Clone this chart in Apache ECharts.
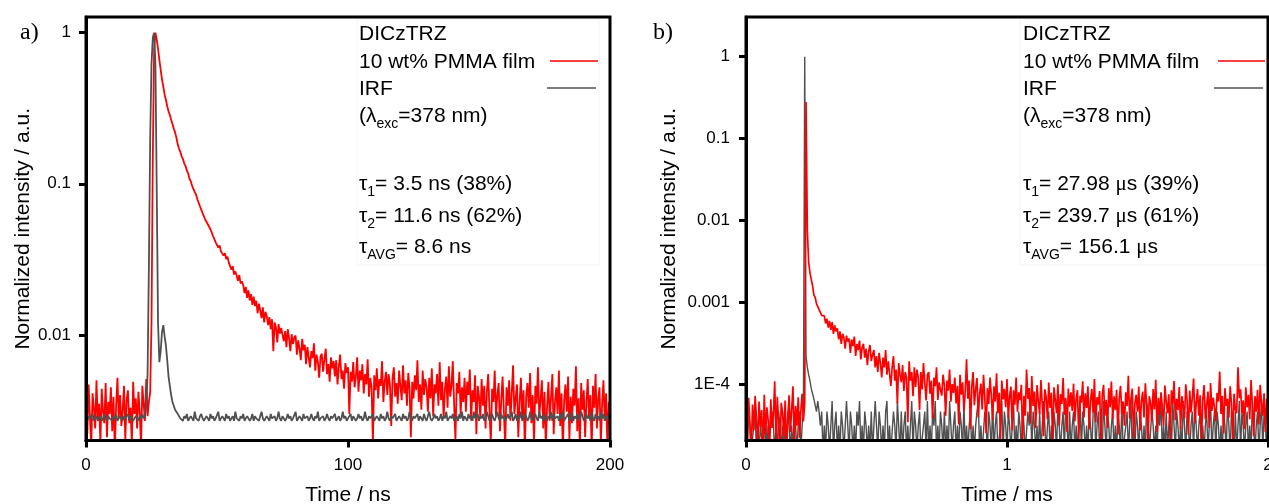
<!DOCTYPE html>
<html>
<head>
<meta charset="utf-8">
<script src="https://cdn.jsdelivr.net/npm/echarts@6/dist/echarts.min.js"></script>
<style>
  html, body { margin: 0; padding: 0; background: #ffffff; }
  #chart { width: 1269px; height: 504px; }
</style>
</head>
<body>
<div id="chart"></div>
<script>
// ---------------------------------------------------------------------------
// Panel a) — nanosecond window (TCSPC), one channel every 0.5 ns from 0 ns
// ---------------------------------------------------------------------------
const stepA = 0.5; // ns per channel

// DICzTRZ, 10 wt% in PMMA film — normalized prompt fluorescence decay
const filmA = [
  0.0038, 0.0022, 0.0047, 0.0029, 0.0018, 0.0041, 0.0033, 0.0024, 0.0050, 0.0027,
  0.0035, 0.0019, 0.0044, 0.0031, 0.0026, 0.0048, 0.0021, 0.0036, 0.0030, 0.0045,
  0.0023, 0.0039, 0.0017, 0.0034, 0.0052, 0.0028, 0.0040, 0.0025, 0.0032, 0.0046,
  0.0020, 0.0037, 0.0043, 0.0026, 0.0033, 0.0019, 0.0049, 0.0030, 0.0038, 0.0024,
  0.0042, 0.0031, 0.0018, 0.0046, 0.0035, 0.0027, 0.0051, 0.0029, 0.0036, 0.0042,
  0.012, 0.15, 0.78, 1.0, 0.90, 0.78, 0.66, 0.57, 0.49, 0.44,
  0.39, 0.36, 0.326, 0.302, 0.285, 0.265, 0.249, 0.232, 0.219, 0.202,
  0.183, 0.171, 0.163, 0.152, 0.146, 0.136, 0.131, 0.122, 0.117, 0.108,
  0.104, 0.097, 0.095, 0.088, 0.085, 0.079, 0.077, 0.071, 0.069, 0.064,
  0.063, 0.058, 0.058, 0.054, 0.054, 0.050, 0.049, 0.045, 0.045, 0.041,
  0.0412, 0.0378, 0.0391, 0.0357, 0.0368, 0.0335, 0.0347, 0.0318, 0.0329, 0.0301,
  0.0296, 0.0270, 0.0285, 0.0251, 0.0263, 0.0247, 0.0228, 0.0249, 0.0219, 0.0226,
  0.0214, 0.0189, 0.0208, 0.0176, 0.0197, 0.0169, 0.0186, 0.0158, 0.0179, 0.0155,
  0.0168, 0.0139, 0.0161, 0.0146, 0.0129, 0.0152, 0.0121, 0.0142, 0.0133, 0.0116,
  0.0131, 0.0109, 0.0127, 0.0078, 0.0121, 0.0112, 0.0089, 0.0118, 0.0102, 0.0111,
  0.0114, 0.0091, 0.0106, 0.0083, 0.0109, 0.0095, 0.0078, 0.0101, 0.0087, 0.0096,
  0.0099, 0.0074, 0.0092, 0.0081, 0.0068, 0.0094, 0.0079, 0.0086, 0.0064, 0.0083,
  0.0082, 0.0061, 0.0078, 0.0070, 0.0088, 0.0058, 0.0074, 0.0066, 0.0052, 0.0072,
  0.0075, 0.0057, 0.0069, 0.0081, 0.0055, 0.0064, 0.0049, 0.0071, 0.0060, 0.0067,
  0.0053, 0.0068, 0.0047, 0.0062, 0.0074, 0.0051, 0.0058, 0.0044, 0.0065, 0.0056,
  0.0061, 0.0030, 0.0057, 0.0049, 0.0066, 0.0045, 0.0053, 0.0071, 0.0042, 0.0058,
  0.0050, 0.0064, 0.0041, 0.0055, 0.0047, 0.0069, 0.0039, 0.0052, 0.0045, 0.0019,
  0.0054, 0.0043, 0.0060, 0.0038, 0.0051, 0.0046, 0.0067, 0.0036, 0.0049, 0.0057,
  0.0040, 0.0055, 0.0047, 0.0025, 0.0052, 0.0061, 0.0039, 0.0048, 0.0035, 0.0058,
  0.0046, 0.0037, 0.0063, 0.0041, 0.0050, 0.0034, 0.0056, 0.0044, 0.0021, 0.0049,
  0.0038, 0.0054, 0.0043, 0.0068, 0.0036, 0.0047, 0.0032, 0.0058, 0.0040, 0.0051,
  0.0045, 0.0031, 0.0052, 0.0038, 0.0060, 0.0029, 0.0047, 0.0041, 0.0055, 0.0034,
  0.0066, 0.0037, 0.0049, 0.0028, 0.0044, 0.0053, 0.0033, 0.0062, 0.0039, 0.0046,
  0.0067, 0.0035, 0.0020, 0.0048, 0.0041, 0.0057, 0.0030, 0.0045, 0.0036, 0.0052,
  0.0031, 0.0049, 0.0040, 0.0059, 0.0027, 0.0043, 0.0036, 0.0054, 0.0022, 0.0046,
  0.0039, 0.0028, 0.0051, 0.0034, 0.0046, 0.0024, 0.0042, 0.0055, 0.0032, 0.0019,
  0.0044, 0.0036, 0.0058, 0.0029, 0.0040, 0.0048, 0.0023, 0.0037, 0.0053, 0.0031,
  0.0018, 0.0045, 0.0034, 0.0050, 0.0027, 0.0041, 0.0063, 0.0030, 0.0038, 0.0047,
  0.0021, 0.0036, 0.0052, 0.0028, 0.0043, 0.0017, 0.0039, 0.0048, 0.0033, 0.0056,
  0.0026, 0.0040, 0.0019, 0.0046, 0.0035, 0.0061, 0.0029, 0.0037, 0.0050, 0.0024,
  0.0042, 0.0018, 0.0034, 0.0049, 0.0027, 0.0039, 0.0055, 0.0022, 0.0036, 0.0045,
  0.0030, 0.0058, 0.0025, 0.0041, 0.0017, 0.0037, 0.0047, 0.0031, 0.0053, 0.0020,
  0.0039, 0.0026, 0.0044, 0.0034, 0.0062, 0.0023, 0.0038, 0.0018, 0.0048, 0.0032,
  0.0043, 0.0021, 0.0036, 0.0051, 0.0028, 0.0040, 0.0017, 0.0046, 0.0033, 0.0055,
  0.0024, 0.0038, 0.0045, 0.0019, 0.0035, 0.0050, 0.0027, 0.0041, 0.0018, 0.0036,
  0.0029
];

// Instrument response function, same time base
const irfA = [
  0.0028, 0.0027, 0.0029, 0.0028, 0.0028, 0.0030, 0.0027, 0.0028, 0.0029, 0.0027,
  0.0028, 0.0029, 0.0027, 0.0028, 0.0030, 0.0028, 0.0027, 0.0029, 0.0028, 0.0028,
  0.0027, 0.0029, 0.0028, 0.0030, 0.0027, 0.0028, 0.0029, 0.0028, 0.0027, 0.0029,
  0.0028, 0.0028, 0.0030, 0.0027, 0.0029, 0.0028, 0.0027, 0.0028, 0.0029, 0.0028,
  0.0027, 0.0029, 0.0028, 0.0030, 0.0028, 0.0029, 0.0034, 0.0055, 0.028, 0.20,
  0.62, 0.93, 1.0, 0.62, 0.090, 0.012, 0.0066, 0.0078, 0.0104, 0.0116,
  0.0098, 0.0085, 0.0068, 0.0053, 0.0046, 0.0040, 0.0036, 0.0034, 0.0032, 0.0031,
  0.0030, 0.0029, 0.0028, 0.0028, 0.0027, 0.0029, 0.0028, 0.0030, 0.0027, 0.0028,
  0.0029, 0.0028, 0.0027, 0.0031, 0.0028, 0.0028, 0.0027, 0.0029, 0.0030, 0.0028,
  0.0027, 0.0028, 0.0029, 0.0028, 0.0027, 0.0030, 0.0028, 0.0029, 0.0027, 0.0028,
  0.0028, 0.0031, 0.0027, 0.0028, 0.0029, 0.0028, 0.0027, 0.0030, 0.0028, 0.0029,
  0.0027, 0.0028, 0.0029, 0.0027, 0.0031, 0.0028, 0.0028, 0.0027, 0.0029, 0.0028,
  0.0030, 0.0027, 0.0028, 0.0029, 0.0028, 0.0027, 0.0028, 0.0030, 0.0027, 0.0029,
  0.0028, 0.0028, 0.0027, 0.0029, 0.0031, 0.0028, 0.0027, 0.0028, 0.0029, 0.0028,
  0.0027, 0.0030, 0.0028, 0.0028, 0.0029, 0.0027, 0.0028, 0.0031, 0.0028, 0.0027,
  0.0029, 0.0028, 0.0027, 0.0028, 0.0030, 0.0028, 0.0029, 0.0027, 0.0028, 0.0028,
  0.0031, 0.0027, 0.0028, 0.0029, 0.0028, 0.0027, 0.0030, 0.0028, 0.0028, 0.0029,
  0.0027, 0.0028, 0.0030, 0.0028, 0.0027, 0.0029, 0.0028, 0.0031, 0.0027, 0.0028,
  0.0028, 0.0029, 0.0027, 0.0028, 0.0030, 0.0028, 0.0027, 0.0029, 0.0028, 0.0028,
  0.0030, 0.0027, 0.0028, 0.0029, 0.0027, 0.0028, 0.0031, 0.0028, 0.0029, 0.0027,
  0.0028, 0.0028, 0.0030, 0.0027, 0.0029, 0.0028, 0.0027, 0.0028, 0.0030, 0.0028,
  0.0029, 0.0027, 0.0028, 0.0031, 0.0028, 0.0027, 0.0029, 0.0028, 0.0028, 0.0030,
  0.0027, 0.0028, 0.0029, 0.0028, 0.0027, 0.0030, 0.0028, 0.0029, 0.0027, 0.0028,
  0.0031, 0.0028, 0.0027, 0.0029, 0.0028, 0.0028, 0.0030, 0.0027, 0.0028, 0.0029,
  0.0028, 0.0027, 0.0030, 0.0028, 0.0029, 0.0027, 0.0028, 0.0031, 0.0028, 0.0027,
  0.0029, 0.0028, 0.0028, 0.0030, 0.0027, 0.0029, 0.0028, 0.0027, 0.0030, 0.0028,
  0.0027, 0.0029, 0.0031, 0.0028, 0.0027, 0.0028, 0.0030, 0.0028, 0.0029, 0.0027,
  0.0028, 0.0030, 0.0027, 0.0029, 0.0028, 0.0031, 0.0027, 0.0028, 0.0029, 0.0028,
  0.0030, 0.0027, 0.0028, 0.0029, 0.0027, 0.0030, 0.0028, 0.0031, 0.0027, 0.0029,
  0.0028, 0.0027, 0.0030, 0.0028, 0.0029, 0.0027, 0.0031, 0.0028, 0.0028, 0.0030,
  0.0027, 0.0029, 0.0028, 0.0030, 0.0027, 0.0028, 0.0031, 0.0029, 0.0027, 0.0028,
  0.0030, 0.0028, 0.0027, 0.0029, 0.0031, 0.0028, 0.0027, 0.0030, 0.0028, 0.0029,
  0.0027, 0.0028, 0.0030, 0.0028, 0.0029, 0.0031, 0.0027, 0.0028, 0.0030, 0.0027,
  0.0029, 0.0028, 0.0031, 0.0027, 0.0028, 0.0030, 0.0029, 0.0027, 0.0028, 0.0031,
  0.0028, 0.0027, 0.0029, 0.0030, 0.0028, 0.0027, 0.0031, 0.0028, 0.0029, 0.0027,
  0.0030, 0.0028, 0.0027, 0.0029, 0.0028, 0.0031, 0.0027, 0.0030, 0.0028, 0.0028,
  0.0029, 0.0027, 0.0030, 0.0028, 0.0031, 0.0027, 0.0028, 0.0029, 0.0030, 0.0027,
  0.0028, 0.0031, 0.0027, 0.0029, 0.0028, 0.0030, 0.0027, 0.0028, 0.0031, 0.0029,
  0.0027, 0.0028, 0.0030, 0.0028, 0.0029, 0.0027, 0.0031, 0.0028, 0.0027, 0.0030,
  0.0028, 0.0029, 0.0027, 0.0031, 0.0028, 0.0030, 0.0027, 0.0029, 0.0028, 0.0030,
  0.0028
];

// ---------------------------------------------------------------------------
// Panel b) — millisecond window (MCS), one channel every 0.005 ms from 0 ms
// ---------------------------------------------------------------------------
const stepB = 0.005; // ms per channel

// DICzTRZ film — normalized delayed fluorescence decay
const filmB = [
  4.4e-5, 2.1e-5, 6.8e-5, 3.3e-5, 1.4e-5, 5.6e-5, 2.7e-5, 7.2e-5, 3.9e-5, 1.6e-5,
  6.1e-5, 3.0e-5, 4.8e-5, 1.3e-5, 7.4e-5, 2.4e-5, 5.2e-5, 3.6e-5, 1.5e-5, 6.5e-5,
  2.9e-5, 4.1e-5, 1.08e-4, 2.0e-5, 7.0e-5, 3.4e-5, 1.2e-5, 5.9e-5, 4.5e-5, 2.3e-5,
  6.3e-5, 1.4e-5, 3.8e-5, 7.3e-5, 2.6e-5, 4.9e-5, 9.4e-5, 1.7e-5, 5.4e-5, 3.1e-5,
  6.9e-5, 2.2e-5, 4.6e-5, 7.6e-5, 3.5e-5, 6.0e-5, 0.28, 0.0075, 0.0031, 0.0023,
  0.0019, 0.0016, 0.00122, 0.00115, 0.00096, 0.00095, 0.00081, 0.00083, 0.00069, 0.00072,
  6.8e-4, 5.5e-4, 6.3e-4, 4.9e-4, 5.9e-4, 4.6e-4, 5.7e-4, 4.1e-4, 5.2e-4, 4.4e-4,
  4.8e-4, 3.5e-4, 4.4e-4, 3.1e-4, 4.1e-4, 3.7e-4, 2.7e-4, 3.9e-4, 3.3e-4, 3.6e-4,
  2.4e-4, 3.5e-4, 2.9e-4, 3.8e-4, 2.2e-4, 3.1e-4, 2.6e-4, 3.4e-4, 2.0e-4, 2.8e-4,
  3.1e-4, 2.1e-4, 2.7e-4, 1.7e-4, 2.5e-4, 3.0e-4, 1.9e-4, 2.3e-4, 2.6e-4, 1.6e-4,
  2.2e-4, 1.4e-4, 2.4e-4, 1.8e-4, 1.2e-4, 2.1e-4, 1.6e-4, 2.6e-4, 1.3e-4, 1.9e-4,
  1.9e-4, 9.5e-5, 1.6e-4, 2.2e-4, 1.1e-4, 1.5e-4, 5.8e-5, 1.8e-4, 1.3e-4, 1.05e-4,
  1.7e-4, 8.2e-5, 1.4e-4, 1.2e-4, 3.4e-5, 1.9e-4, 1.1e-4, 1.4e-4, 7.1e-5, 1.6e-4,
  9.2e-5, 1.5e-4, 1.2e-4, 4.8e-5, 1.4e-4, 8.6e-5, 1.8e-4, 1.05e-4, 6.3e-5, 1.3e-4,
  1.4e-4, 7.6e-5, 1.1e-4, 3.8e-5, 1.2e-4, 9.4e-5, 1.6e-4, 6.4e-5, 1.05e-4, 8.5e-5,
  7.2e-5, 1.3e-4, 9.7e-5, 4.1e-5, 1.1e-4, 8.3e-5, 1.5e-4, 6.1e-5, 1.0e-4, 7.8e-5,
  1.2e-4, 5.8e-5, 9.5e-5, 3.2e-5, 1.3e-4, 7.4e-5, 1.05e-4, 4.7e-5, 8.1e-5, 2.0e-4,
  6.6e-5, 1.1e-4, 2.8e-5, 9.2e-5, 1.4e-4, 5.5e-5, 8.7e-5, 1.18e-4, 3.9e-5, 7.6e-5,
  1.01e-4, 4.9e-5, 1.3e-4, 6.8e-5, 2.5e-5, 8.9e-5, 5.7e-5, 1.2e-4, 7.3e-5, 3.6e-5,
  9.4e-5, 6.1e-5, 1.35e-4, 4.4e-5, 7.8e-5, 2.1e-5, 1.1e-4, 6.5e-5, 8.7e-5, 5.2e-5,
  1.15e-4, 3.8e-5, 7.1e-5, 9.3e-5, 2.7e-5, 8.4e-5, 5.6e-5, 1.2e-4, 4.6e-5, 7.9e-5,
  6.3e-5, 9.8e-5, 1.9e-5, 7.2e-5, 4.1e-5, 1.5e-4, 6.6e-5, 8.9e-5, 3.3e-5, 1.25e-4,
  5.4e-5, 8.1e-5, 2.9e-5, 9.7e-5, 6.2e-5, 4.3e-5, 1.12e-4, 5.8e-5, 2.3e-5, 8.6e-5,
  6.9e-5, 3.7e-5, 1.04e-4, 5.1e-5, 7.8e-5, 1.8e-5, 9.1e-5, 6.4e-5, 4.4e-5, 9.9e-5,
  3.1e-5, 7.5e-5, 5.7e-5, 1.18e-4, 4.2e-5, 6.8e-5, 2.6e-5, 8.8e-5, 5.3e-5, 7.9e-5,
  4.7e-5, 1.01e-4, 3.5e-5, 6.6e-5, 8.4e-5, 2.1e-5, 7.2e-5, 5.9e-5, 1.08e-4, 3.9e-5,
  7.7e-5, 5.1e-5, 9.4e-5, 2.8e-5, 6.3e-5, 8.7e-5, 4.5e-5, 1.15e-4, 3.4e-5, 6.9e-5,
  5.6e-5, 8.2e-5, 1.9e-5, 7.3e-5, 9.8e-5, 4.1e-5, 6.4e-5, 2.9e-5, 8.9e-5, 5.2e-5,
  1.07e-4, 3.7e-5, 7.1e-5, 4.8e-5, 8.5e-5, 2.4e-5, 6.7e-5, 9.5e-5, 4.3e-5, 6.1e-5,
  3.1e-5, 7.9e-5, 5.4e-5, 1.26e-4, 3.8e-5, 6.6e-5, 8.8e-5, 2.2e-5, 5.8e-5, 7.4e-5,
  4.6e-5, 9.3e-5, 2.7e-5, 6.2e-5, 8.1e-5, 3.9e-5, 1.02e-4, 5.5e-5, 1.8e-5, 7.1e-5,
  5.9e-5, 3.5e-5, 8.7e-5, 4.9e-5, 1.13e-4, 2.6e-5, 6.8e-5, 4.2e-5, 7.9e-5, 5.3e-5,
  3.1e-5, 9.6e-5, 6.1e-5, 4.4e-5, 7.5e-5, 2.1e-5, 8.4e-5, 5.7e-5, 1.09e-4, 3.6e-5,
  6.6e-5, 4.8e-5, 9.2e-5, 2.8e-5, 7.1e-5, 5.5e-5, 3.8e-5, 9.9e-5, 6.2e-5, 2.4e-5,
  8.3e-5, 4.5e-5, 6.9e-5, 1.17e-4, 3.3e-5, 5.8e-5, 8.7e-5, 4.1e-5, 7.3e-5, 1.9e-5,
  6.4e-5, 9.7e-5, 3.7e-5, 5.6e-5, 8.1e-5, 2.9e-5, 1.03e-4, 4.7e-5, 6.8e-5, 5.2e-5,
  3.5e-5, 7.8e-5, 6.1e-5, 1.42e-4, 4.3e-5, 7.2e-5, 2.5e-5, 8.9e-5, 5.4e-5, 6.6e-5,
  3.9e-5, 9.4e-5, 5.8e-5, 2.1e-5, 7.6e-5, 4.9e-5, 4.4e-5, 1.6e-4, 6.7e-5, 8.6e-5,
  4.4e-5, 6.3e-5, 2.8e-5, 9.1e-5, 5.2e-5, 7.4e-5, 3.7e-5, 1.12e-4, 5.7e-5, 2.3e-5,
  7.1e-5, 4.6e-5, 8.5e-5, 3.2e-5, 9.8e-5, 5.9e-5, 4.1e-5, 7.7e-5, 2.6e-5, 6.6e-5,
  5.3e-5
];

// Instrument response function, same time base (low-count tail)
const irfB = [
  3.1e-5, 1.5e-5, 4.6e-5, 3.1e-5, 1.5e-5, 1.5e-5, 3.1e-5, 4.6e-5, 1.5e-5, 3.1e-5,
  1.5e-5, 3.1e-5, 3.1e-5, 1.5e-5, 4.6e-5, 1.5e-5, 3.1e-5, 1.5e-5, 1.5e-5, 3.1e-5,
  4.6e-5, 3.1e-5, 1.5e-5, 3.1e-5, 1.5e-5, 4.6e-5, 3.1e-5, 1.5e-5, 3.1e-5, 1.5e-5,
  3.1e-5, 1.5e-5, 4.6e-5, 3.1e-5, 1.5e-5, 3.1e-5, 1.5e-5, 4.6e-5, 3.1e-5, 1.5e-5,
  3.1e-5, 4.6e-5, 1.5e-5, 3.1e-5, 4.6e-5, 1.0, 2.2e-4, 1.6e-4, 1.3e-4, 1.1e-4,
  8.8e-5, 8.8e-5, 6.6e-5, 6.6e-5, 4.6e-5, 6.2e-5, 4.6e-5, 3.1e-5, 4.6e-5, 1.5e-5,
  3.1e-5, 1.5e-5, 4.6e-5, 3.1e-5, 1.5e-5, 3.1e-5, 6.2e-5, 1.5e-5, 3.1e-5, 4.6e-5,
  1.5e-5, 3.1e-5, 1.5e-5, 4.6e-5, 3.1e-5, 1.5e-5, 1.5e-5, 6.2e-5, 3.1e-5, 1.5e-5,
  4.6e-5, 3.1e-5, 1.5e-5, 3.1e-5, 1.5e-5, 4.6e-5, 3.1e-5, 6.2e-5, 1.5e-5, 3.1e-5,
  1.5e-5, 4.6e-5, 3.1e-5, 1.5e-5, 3.1e-5, 1.5e-5, 4.6e-5, 1.5e-5, 3.1e-5, 6.2e-5,
  3.1e-5, 1.5e-5, 4.6e-5, 3.1e-5, 1.5e-5, 3.1e-5, 1.5e-5, 4.6e-5, 6.2e-5, 1.5e-5,
  3.1e-5, 1.5e-5, 1.5e-5, 4.6e-5, 3.1e-5, 1.5e-5, 6.2e-5, 3.1e-5, 1.5e-5, 4.6e-5,
  1.5e-5, 3.1e-5, 4.6e-5, 1.5e-5, 3.1e-5, 1.5e-5, 3.1e-5, 6.2e-5, 1.5e-5, 4.6e-5,
  3.1e-5, 1.5e-5, 3.1e-5, 4.6e-5, 1.5e-5, 1.5e-5, 3.1e-5, 4.6e-5, 1.5e-5, 6.2e-5,
  1.5e-5, 3.1e-5, 1.5e-5, 4.6e-5, 3.1e-5, 6.2e-5, 1.5e-5, 3.1e-5, 1.5e-5, 4.6e-5,
  3.1e-5, 1.5e-5, 4.6e-5, 1.5e-5, 3.1e-5, 1.5e-5, 6.2e-5, 3.1e-5, 1.5e-5, 3.1e-5,
  4.6e-5, 1.5e-5, 3.1e-5, 1.5e-5, 4.6e-5, 3.1e-5, 1.5e-5, 6.2e-5, 1.5e-5, 3.1e-5,
  1.5e-5, 3.1e-5, 4.6e-5, 1.5e-5, 3.1e-5, 1.5e-5, 3.1e-5, 4.6e-5, 6.2e-5, 1.5e-5,
  3.1e-5, 1.5e-5, 1.5e-5, 4.6e-5, 3.1e-5, 1.5e-5, 4.6e-5, 3.1e-5, 1.5e-5, 6.2e-5,
  1.5e-5, 3.1e-5, 4.6e-5, 1.5e-5, 1.5e-5, 3.1e-5, 6.2e-5, 1.5e-5, 4.6e-5, 3.1e-5,
  1.5e-5, 4.6e-5, 3.1e-5, 1.5e-5, 3.1e-5, 6.2e-5, 1.5e-5, 3.1e-5, 1.5e-5, 4.6e-5,
  3.1e-5, 1.5e-5, 4.6e-5, 3.1e-5, 1.5e-5, 1.5e-5, 4.6e-5, 3.1e-5, 6.2e-5, 1.5e-5,
  4.6e-5, 3.1e-5, 1.5e-5, 3.1e-5, 1.5e-5, 4.6e-5, 1.5e-5, 3.1e-5, 6.2e-5, 3.1e-5,
  1.5e-5, 3.1e-5, 4.6e-5, 1.5e-5, 3.1e-5, 1.5e-5, 4.6e-5, 3.1e-5, 1.5e-5, 6.2e-5,
  3.1e-5, 1.5e-5, 3.1e-5, 4.6e-5, 1.5e-5, 6.2e-5, 3.1e-5, 1.5e-5, 4.6e-5, 1.5e-5,
  3.1e-5, 4.6e-5, 1.5e-5, 3.1e-5, 1.5e-5, 3.1e-5, 6.2e-5, 1.5e-5, 4.6e-5, 3.1e-5,
  1.5e-5, 3.1e-5, 1.5e-5, 4.6e-5, 3.1e-5, 1.5e-5, 4.6e-5, 6.2e-5, 1.5e-5, 3.1e-5,
  4.6e-5, 1.5e-5, 3.1e-5, 1.5e-5, 6.2e-5, 3.1e-5, 1.5e-5, 4.6e-5, 3.1e-5, 1.5e-5,
  3.1e-5, 4.6e-5, 1.5e-5, 3.1e-5, 1.5e-5, 4.6e-5, 3.1e-5, 1.5e-5, 6.2e-5, 1.5e-5,
  1.5e-5, 3.1e-5, 4.6e-5, 1.5e-5, 3.1e-5, 6.2e-5, 1.5e-5, 3.1e-5, 1.5e-5, 4.6e-5,
  3.1e-5, 1.5e-5, 4.6e-5, 3.1e-5, 1.5e-5, 3.1e-5, 1.5e-5, 6.2e-5, 4.6e-5, 1.5e-5,
  1.5e-5, 4.6e-5, 3.1e-5, 1.5e-5, 3.1e-5, 1.5e-5, 4.6e-5, 3.1e-5, 6.2e-5, 1.5e-5,
  3.1e-5, 1.5e-5, 4.6e-5, 1.5e-5, 3.1e-5, 4.6e-5, 1.5e-5, 6.2e-5, 3.1e-5, 1.5e-5,
  4.6e-5, 3.1e-5, 1.5e-5, 3.1e-5, 1.5e-5, 6.2e-5, 3.1e-5, 1.5e-5, 4.6e-5, 3.1e-5,
  1.5e-5, 3.1e-5, 4.6e-5, 1.5e-5, 6.2e-5, 3.1e-5, 1.5e-5, 3.1e-5, 4.6e-5, 1.5e-5,
  3.1e-5, 1.5e-5, 3.1e-5, 4.6e-5, 1.5e-5, 3.1e-5, 6.2e-5, 1.5e-5, 3.1e-5, 4.6e-5,
  1.5e-5, 4.6e-5, 3.1e-5, 1.5e-5, 3.1e-5, 1.5e-5, 4.6e-5, 3.1e-5, 1.5e-5, 6.2e-5,
  3.1e-5, 1.5e-5, 4.6e-5, 3.1e-5, 1.5e-5, 4.6e-5, 1.5e-5, 3.1e-5, 6.2e-5, 1.5e-5,
  4.6e-5, 3.1e-5, 1.5e-5, 3.1e-5, 4.6e-5, 1.5e-5, 3.1e-5, 1.5e-5, 6.2e-5, 3.1e-5,
  1.5e-5, 3.1e-5, 4.6e-5, 1.5e-5, 3.1e-5, 6.2e-5, 1.5e-5, 4.6e-5, 3.1e-5, 1.5e-5,
  3.1e-5
];

// Axis ticks and their printed labels
const xTicksA = [0, 100, 200];
const xTicksB = [0, 1, 2];
const yTicksA = [0.01, 0.1, 1];
const yTickLabelsA = ['0.01', '0.1', '1'];
const yTicksB = [1e-4, 0.001, 0.01, 0.1, 1];
const yTickLabelsB = ['1E-4', '0.001', '0.01', '0.1', '1'];

// Annotation text of each panel
const panelTags = ['a)', 'b)'];
const notesA = [
  'DICzTRZ', '10 wt% PMMA film', 'IRF', '(λ{sub|exc}=378 nm)',
  'τ{sub|1}= 3.5 ns (38%)', 'τ{sub|2}= 11.6 ns (62%)', 'τ{sub|AVG}= 8.6 ns'
];
const notesB = [
  'DICzTRZ', '10 wt% PMMA film', 'IRF', '(λ{sub|exc}=378 nm)',
  'τ{sub|1}= 27.98 {mu|μ}s (39%)', 'τ{sub|2}= 239.7 {mu|μ}s (61%)', 'τ{sub|AVG}= 156.1 {mu|μ}s'
];

// ---------------------------------------------------------------------------
const SANS = "'Liberation Sans', Arial, Helvetica, sans-serif";
const SERIF = "'Liberation Serif', 'Times New Roman', serif";
const RED = '#ff0000';
const GREY = '#505050';

function toPairs(values, step) {
  return values.map((v, i) => [i * step, v]);
}

function labelLookup(ticks, labels) {
  return function (v) {
    for (let k = 0; k < ticks.length; k++) {
      if (Math.abs(Math.log10(v) - Math.log10(ticks[k])) < 1e-6) return labels[k];
    }
    return '';
  };
}

const blackLine = { color: '#000', width: 3 };

function xAxisFor(gridIndex, ticks, name) {
  return {
    type: 'value', gridIndex, min: ticks[0], max: ticks[ticks.length - 1],
    interval: ticks[1] - ticks[0], z: 10,
    axisLine: { show: true, onZero: false, lineStyle: blackLine },
    axisTick: { show: true, inside: false, length: 7, lineStyle: blackLine },
    axisLabel: { show: true, fontSize: 17, fontFamily: SANS, color: '#000', margin: 16,
                 showMinLabel: true, showMaxLabel: true, hideOverlap: false },
    splitLine: { show: false },
    name, nameLocation: 'middle', nameGap: 44, nameMoveOverlap: false,
    nameTextStyle: { fontSize: 21, fontFamily: SANS, color: '#000' }
  };
}

function yAxisFor(gridIndex, min, max, ticks, labels, gap, margin) {
  return {
    type: 'log', logBase: 10, gridIndex, min, max, z: 10,
    axisLine: { show: true, onZero: false, lineStyle: blackLine },
    axisTick: { show: true, inside: false, length: 7, lineStyle: blackLine, customValues: ticks },
    axisLabel: { show: true, fontSize: 17, fontFamily: SANS, color: '#000', margin,
                 customValues: ticks, formatter: labelLookup(ticks, labels) },
    splitLine: { show: false },
    minorTick: { show: false },
    name: 'Normalized intensity / a.u.', nameLocation: 'middle', nameGap: gap, nameMoveOverlap: false,
    nameTextStyle: { fontSize: 21, fontFamily: SANS, color: '#000' }
  };
}

function trace(values, step, axisIndex, color, width) {
  return {
    type: 'line', xAxisIndex: axisIndex, yAxisIndex: axisIndex,
    data: toPairs(values, step),
    showSymbol: false, symbol: 'none', clip: true, silent: true,
    lineStyle: { color, width }, itemStyle: { color },
    emphasis: { disabled: true }, animation: false
  };
}

// Annotation blocks (text, legend swatches)
const noteRows = [34, 62, 89, 116, 184, 216, 247];
const richParts = {
  sub: { fontSize: 14, fontFamily: SANS, fill: '#000', lineHeight: 14, verticalAlign: 'bottom' },
  mu: { fontSize: 21, fontFamily: SERIF, fill: '#000', lineHeight: 30 }
};

function noteBlock(x, lines) {
  return lines.map((t, k) => ({
    type: 'text', x, y: noteRows[k], silent: true, z: 20,
    style: {
      text: t, fill: '#000', fontSize: 21, fontFamily: SANS, lineHeight: 30,
      align: 'left', textAlign: 'left', verticalAlign: 'middle', textVerticalAlign: 'middle',
      rich: richParts
    }
  }));
}

function swatch(x1, x2, y, color) {
  return { type: 'line', silent: true, z: 20,
           shape: { x1, y1: y, x2, y2: y }, style: { stroke: color, lineWidth: 1.6 } };
}

function tag(x, y, t) {
  return { type: 'text', x, y, silent: true, z: 20,
           style: { text: t, fill: '#000', fontSize: 24, fontFamily: SERIF,
                    align: 'left', textAlign: 'left', verticalAlign: 'middle', textVerticalAlign: 'middle' } };
}

function faintBox(x, y, w, h) {
  return { type: 'rect', silent: true, z: 1, shape: { x, y, width: w, height: h },
           style: { fill: 'none', stroke: '#f3f3f3', lineWidth: 1 } };
}

const gridBase = {
  top: 17, height: 423.5, show: true, z: 10, borderColor: '#000', borderWidth: 3,
  backgroundColor: 'transparent', containLabel: false, outerBoundsMode: 'none'
};

const chart = echarts.init(document.getElementById('chart'), null, { renderer: 'canvas' });

chart.setOption({
  animation: false,
  backgroundColor: '#ffffff',
  grid: [
    Object.assign({ left: 86, width: 524 }, gridBase),
    Object.assign({ left: 746, width: 522 }, gridBase)
  ],
  xAxis: [
    xAxisFor(0, xTicksA, 'Time / ns'),
    xAxisFor(1, xTicksB, 'Time / ms')
  ],
  yAxis: [
    yAxisFor(0, 0.002, 1.27, yTicksA, yTickLabelsA, 52, 15),
    yAxisFor(1, 2.04e-5, 3.06, yTicksB, yTickLabelsB, 66, 16)
  ],
  series: [
    trace(filmA, stepA, 0, RED, 1.8),
    trace(irfA, stepA, 0, GREY, 1.8),
    trace(irfB, stepB, 1, GREY, 1.4),
    trace(filmB, stepB, 1, RED, 1.7)
  ],
  graphic: [
    faintBox(357, 19, 242, 246),
    faintBox(1020, 19, 246, 246),
    ...noteBlock(359, notesA),
    ...noteBlock(1023, notesB),
    swatch(550, 598, 61, RED),
    swatch(547, 596, 88, GREY),
    swatch(1218, 1265, 61, RED),
    swatch(1214, 1263, 88, GREY),
    tag(20, 33, panelTags[0]),
    tag(653, 33, panelTags[1])
  ]
});
</script>
</body>
</html>
